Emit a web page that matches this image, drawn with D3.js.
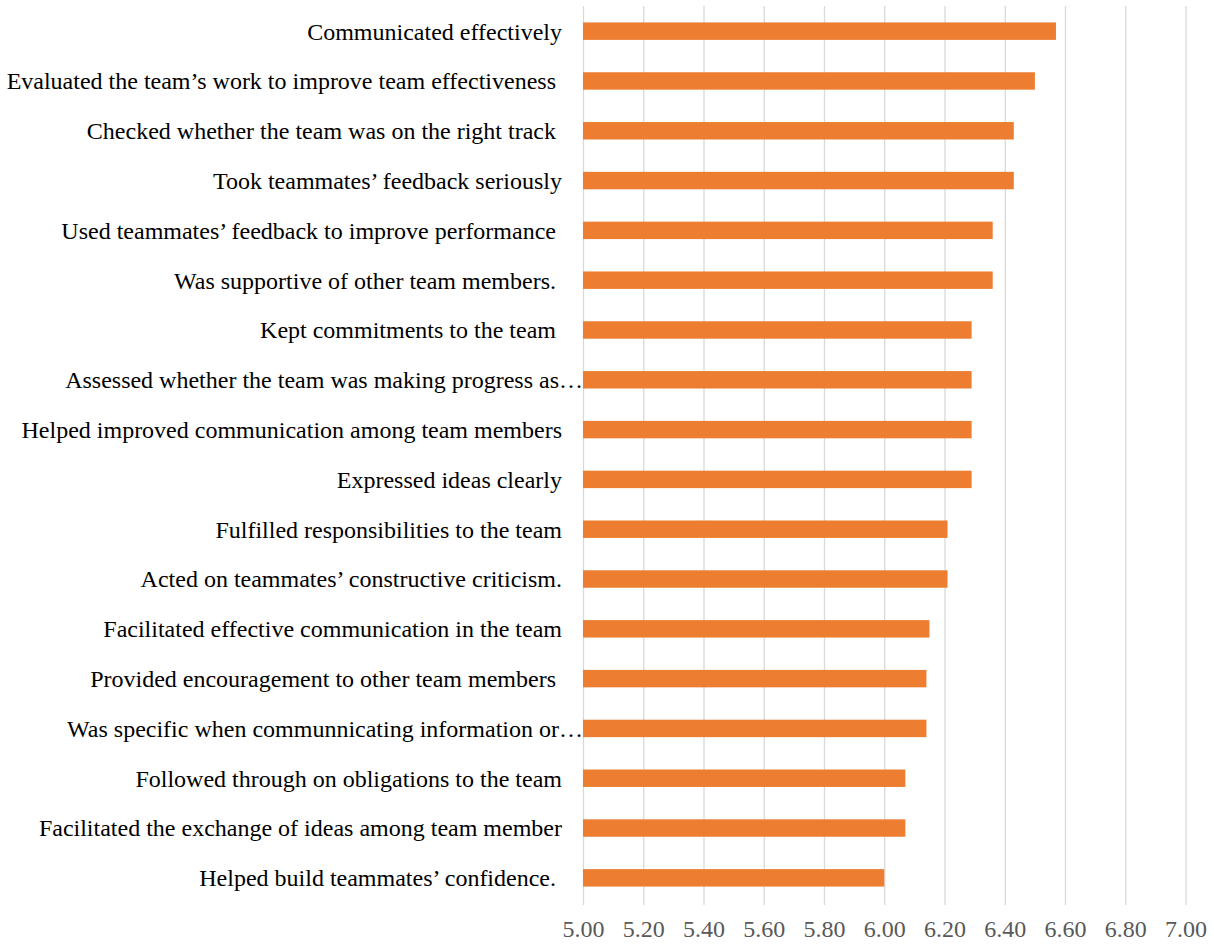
<!DOCTYPE html>
<html>
<head>
<meta charset="utf-8">
<script src="https://cdn.jsdelivr.net/npm/d3@7"></script>
<style>
    body { margin: 0; background: #ffffff; }
    svg { display: block; }
    .label { white-space: pre; }
</style>
</head>
<body>
<svg id="barchart"></svg>
<script>

// items, top to bottom (trailing spaces kept as in the source chart)
const items = [
    "Communicated effectively",
    "Evaluated the team\u2019s work to improve team effectiveness ",
    "Checked whether the team was on the right track ",
    "Took teammates\u2019 feedback seriously",
    "Used teammates\u2019 feedback to improve performance ",
    "Was supportive of other team members. ",
    "Kept commitments to the team ",
    "Assessed whether the team was making progress as\u2026",
    "Helped improved communication among team members",
    "Expressed ideas clearly",
    "Fulfilled responsibilities to the team",
    "Acted on teammates\u2019 constructive criticism.",
    "Facilitated effective communication in the team",
    "Provided encouragement to other team members ",
    "Was specific when communnicating information or\u2026",
    "Followed through on obligations to the team",
    "Facilitated the exchange of ideas among team member",
    "Helped build teammates\u2019 confidence. "
]

const scores = [6.57, 6.50, 6.43, 6.43, 6.36, 6.36, 6.29, 6.29, 6.29, 6.29,
    6.21, 6.21, 6.15, 6.14, 6.14, 6.07, 6.07, 6.00]

const xTicks = [5.0, 5.2, 5.4, 5.6, 5.8, 6.0, 6.2, 6.4, 6.6, 6.8, 7.0]

const data = items.map((name, i) => ({ name: name, value: scores[i] }))

const width = 1214
const height = 944
const margin = { top: 6, right: 28.5, bottom: 41, left: 583 }
const innerWidth = width - margin.left - margin.right
const innerHeight = height - margin.top - margin.bottom

const xScale = d3.scaleLinear()
    .domain([5, 7])
    .range([0, innerWidth])

const yScale = d3.scaleBand()
    .domain(items)
    .range([0, innerHeight])
    .paddingInner(0.65)
    .paddingOuter(0.33)

const svg = d3.select('#barchart')
    .attr('width', width)
    .attr('height', height)

const g = svg.append('g')
    .attr('transform', 'translate(' + margin.left + ',' + margin.top + ')')

// vertical gridlines + tick labels
const xAxis = d3.axisBottom(xScale)
    .tickValues(xTicks)
    .tickFormat(d3.format('.2f'))
    .tickSize(-innerHeight)

const xg = g.append('g')
    .attr('transform', 'translate(0,' + innerHeight + ')')
    .call(xAxis)

xg.select('.domain').remove()
xg.selectAll('.tick line')
    .attr('stroke', '#d9d9d9')
    .attr('stroke-width', 1.3)
    .attr('y2', -innerHeight)
    .attr('y1', 2)
xg.selectAll('.tick text')
    .attr('y', 34)
    .attr('dy', 0)
    .attr('fill', '#595959')
    .style('font-family', '"Liberation Serif", "Times New Roman", serif')
    .style('font-size', '24px')

// bars
g.selectAll('rect')
    .data(data)
    .enter()
    .append('rect')
    .attr('x', xScale(5))
    .attr('y', d => yScale(d.name))
    .attr('width', d => xScale(d.value) - xScale(5))
    .attr('height', yScale.bandwidth())
    .attr('fill', '#ED7D31')

// category labels
g.selectAll('.label')
    .data(data)
    .enter()
    .append('text')
    .attr('class', 'label')
    .attr('x', d => d.name.endsWith('\u2026') ? 0 : -21)
    .attr('y', d => yScale(d.name) + yScale.bandwidth() / 2)
    .attr('dy', '0.35em')
    .attr('text-anchor', 'end')
    .attr('fill', '#000000')
    .style('font-family', '"Liberation Serif", "Times New Roman", serif')
    .style('font-size', '24px')
    .text(d => d.name)

</script>
</body>
</html>
